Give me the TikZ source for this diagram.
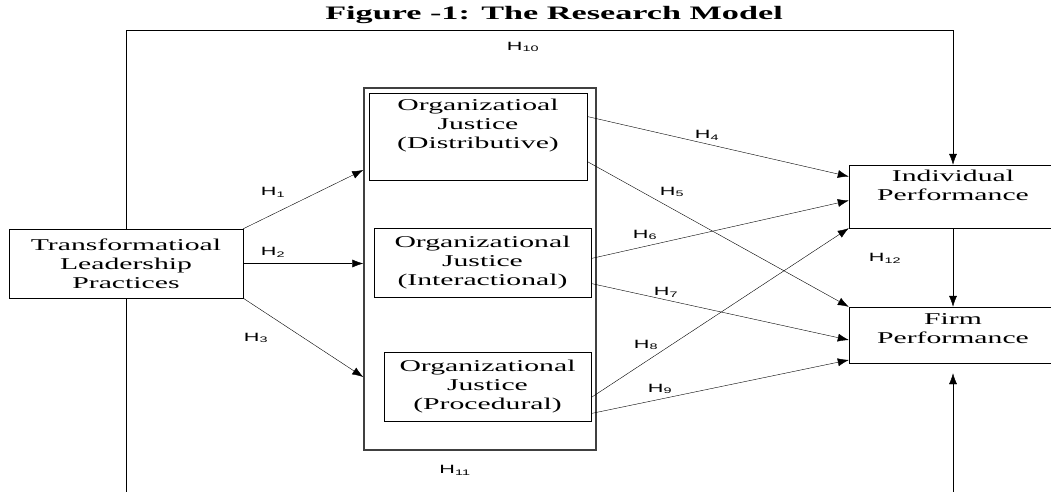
\documentclass[tikz,border=0pt]{standalone}
\usepackage{fontspec}
\setmainfont{Liberation Serif}[FakeStretch=1.8]
\newfontfamily\hypfont{Liberation Sans}[FakeStretch=1.8]
\usetikzlibrary{arrows.meta, positioning, shapes}
\tikzset{->, >={Latex[length=11pt, width=8pt]}, x=1pt, y=-1pt, line width=1.3pt,
  box/.style={rectangle, draw, align=center, inner sep=0pt, font=\fontsize{16.5}{19}\selectfont},
  hyp/.style={font=\hypfont\fontsize{12}{14}\selectfont, inner sep=1pt}}

\begin{document}
\begin{tikzpicture}
    \useasboundingbox (0,0) rectangle (1051,492);
    \clip (0,0) rectangle (1051,492);
    \node[font=\bfseries\fontsize{19}{21}\selectfont] (title) at (554,15) {Figure -1: The Research Model};
    \node[box, minimum width=234, minimum height=69] (leader) at (126,263.5) {Transformatioal\\Leadership\\Practices};
    \node[rectangle, draw=black!75, line width=1.5pt, minimum width=232, minimum height=362] (justice) at (480,269) {};
    \node[box, minimum width=218, minimum height=87] (distrib) at (478,136.5) {Organizatioal\\Justice\\(Distributive)\\[6pt]\mbox{}};
    \node[box, minimum width=217, minimum height=69] (interact) at (482.5,262.5) {Organizational\\Justice\\(Interactional)};
    \node[box, minimum width=207, minimum height=69] (proced) at (487.5,386.5) {Organizational\\Justice\\(Procedural)};
    \node[box, minimum width=208, minimum height=63] (indiv) at (953,196.5) {Individual\\Performance\\[4pt]\mbox{}};
    \node[box, minimum width=208, minimum height=56] (firm) at (953,335) {Firm\\Performance\\[-7pt]\mbox{}};

    \draw (leader.north east) -- ([yshift=99pt]justice.west);
    \draw (leader.east) -- (leader.east -| justice.west);
    \draw (leader.south east) -- ([yshift=-108pt]justice.west);
    \draw ([yshift=20pt]distrib.east) -- ([yshift=20pt]indiv.west);
    \draw ([yshift=-25pt]distrib.east) -- (firm.north west);
    \draw ([yshift=4pt]interact.east) -- ([yshift=-4pt]indiv.west);
    \draw ([yshift=-21pt]interact.east) -- ([yshift=-5pt]firm.west);
    \draw ([yshift=-11pt]proced.east) -- (indiv.south west);
    \draw ([yshift=-27pt]proced.east) -- ([yshift=-25pt]firm.west);
    \draw (leader.north) -- ++(0,-199) -| (indiv.north);
    \draw (leader.south) -- ++(0,220) -| ([yshift=-10pt]firm.south);
    \draw (indiv.south) -- (firm.north);

    \node[hyp] (h1) at (273,192) {H\textsubscript{1}};
    \node[hyp] (h2) at (273,252) {H\textsubscript{2}};
    \node[hyp] (h3) at (256,338) {H\textsubscript{3}};
    \node[hyp] (h4) at (707,135) {H\textsubscript{4}};
    \node[hyp] (h5) at (672,192) {H\textsubscript{5}};
    \node[hyp] (h6) at (645,235) {H\textsubscript{6}};
    \node[hyp] (h7) at (666,292) {H\textsubscript{7}};
    \node[hyp] (h8) at (646,345) {H\textsubscript{8}};
    \node[hyp] (h9) at (660,389) {H\textsubscript{9}};
    \node[hyp] (h10) at (523,47) {H\textsubscript{10}};
    \node[hyp] (h11) at (455,470) {H\textsubscript{11}};
    \node[hyp] (h12) at (885,258) {H\textsubscript{12}};
\end{tikzpicture}
\end{document}
